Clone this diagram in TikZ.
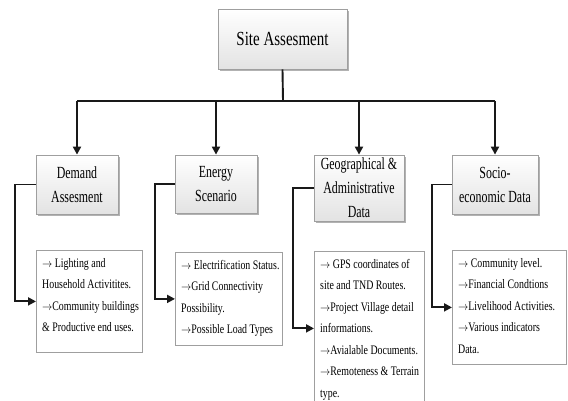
\documentclass[tikz,border=0pt]{standalone}
\usepackage{fontspec}
\setmainfont{Liberation Serif}
\newfontfamily\titlefont[FakeStretch=0.75]{Liberation Serif}
\newfontfamily\midfont[FakeStretch=0.70]{Liberation Serif}
\newfontfamily\listfont[FakeStretch=0.76]{Liberation Serif}
\usetikzlibrary{arrows.meta,shadows}
\newcommand\rarr{\scalebox{0.85}[1]{$\rightarrow$}}
\begin{document}
\begin{tikzpicture}[x=1pt,y=-1pt,
  conn/.style={line width=1.9pt, draw=black!90},
  arr/.style={conn, -{Triangle[length=8pt,width=8pt]}},
  hbox/.style={draw=gray!75, line width=0.8pt, top color=white, bottom color=gray!22,
    drop shadow={shadow xshift=1.8pt, shadow yshift=-1.8pt, fill=black!30, opacity=1},
    inner sep=0pt, align=center},
  midtxt/.style={hbox, font=\midfont\fontsize{17pt}{24pt}\selectfont},
  lbox/.style={draw=gray!75, line width=0.8pt, fill=white, inner sep=0pt, anchor=north west},
  ltext/.style={font=\listfont\fontsize{13pt}{21.5pt}\selectfont, align=left, inner sep=0pt, anchor=north west}]
\useasboundingbox (0,0) rectangle (568,401);
\clip (0,0) rectangle (568,401);
% top
\node[hbox, font=\titlefont\fontsize{20pt}{24pt}\selectfont, minimum width=129pt, minimum height=60pt] (top) at (282.5,39) {Site Assesment};
% level 2
\node[midtxt, minimum width=82pt, minimum height=59pt] (d2) at (77,184.5) {Demand\\Assesment};
\node[midtxt, minimum width=82pt, minimum height=58pt] (e2) at (216,184) {Energy\\Scenario};
\node[midtxt, minimum width=90pt, minimum height=66pt] (g2) at (359,188) {Geographical \&\\Administrative\\Data};
\node[midtxt, minimum width=86pt, minimum height=59pt] (s2) at (495,184.5) {Socio-\\economic Data};
% level 3 boxes
\node[lbox, minimum width=106pt, minimum height=102pt] (d3) at (36,250) {};
\node[lbox, minimum width=107pt, minimum height=93pt] (e3) at (175,252) {};
\node[lbox, minimum width=110pt, minimum height=154pt] (g3) at (314,251) {};
\node[lbox, minimum width=114pt, minimum height=114pt] (s3) at (452,250) {};
% level 3 texts
\node[ltext] (d3t) at ([shift={(6,8)}]d3.north west) {\rarr{} Lighting and\\Household Activitites.\\\rarr Community buildings\\\& Productive end uses.};
\node[ltext] (e3t) at ([shift={(6,8)}]e3.north west) {\rarr{} Electrification Status.\\\rarr Grid Connectivity\\Possibility.\\\rarr Possible Load Types};
\node[ltext] (g3t) at ([shift={(6,8)}]g3.north west) {\rarr{} GPS coordinates of\\site and TND Routes.\\\rarr Project Village detail\\informations.\\\rarr Avialable Documents.\\\rarr Remoteness \& Terrain\\type.};
\node[ltext] (s3t) at ([shift={(6,8)}]s3.north west) {\rarr{} Community level.\\\rarr Financial Condtions\\\rarr Livelihood Activities.\\\rarr Various indicators\\Data.};
% connectors
\coordinate (hm) at (283,101);
\draw[conn] (top.south) -- (hm);
\draw[conn] (d2.north |- hm) -- (s2.north |- hm);
\draw[arr] (d2.north |- hm) -- (d2.north);
\draw[arr] (e2.north |- hm) -- (e2.north);
\draw[arr] (g2.north |- hm) -- (g2.north);
\draw[arr] (s2.north |- hm) -- (s2.north);
\draw[arr] (d2.west) -- ++(-21,0) |- (d3.west);
\draw[arr] (e2.west) -- ++(-20,0) |- (e3.west);
\draw[arr] (g2.west) -- ++(-21,0) |- (g3.west);
\draw[arr] (s2.west) -- ++(-20,0) |- (s3.west);
\end{tikzpicture}
\end{document}
